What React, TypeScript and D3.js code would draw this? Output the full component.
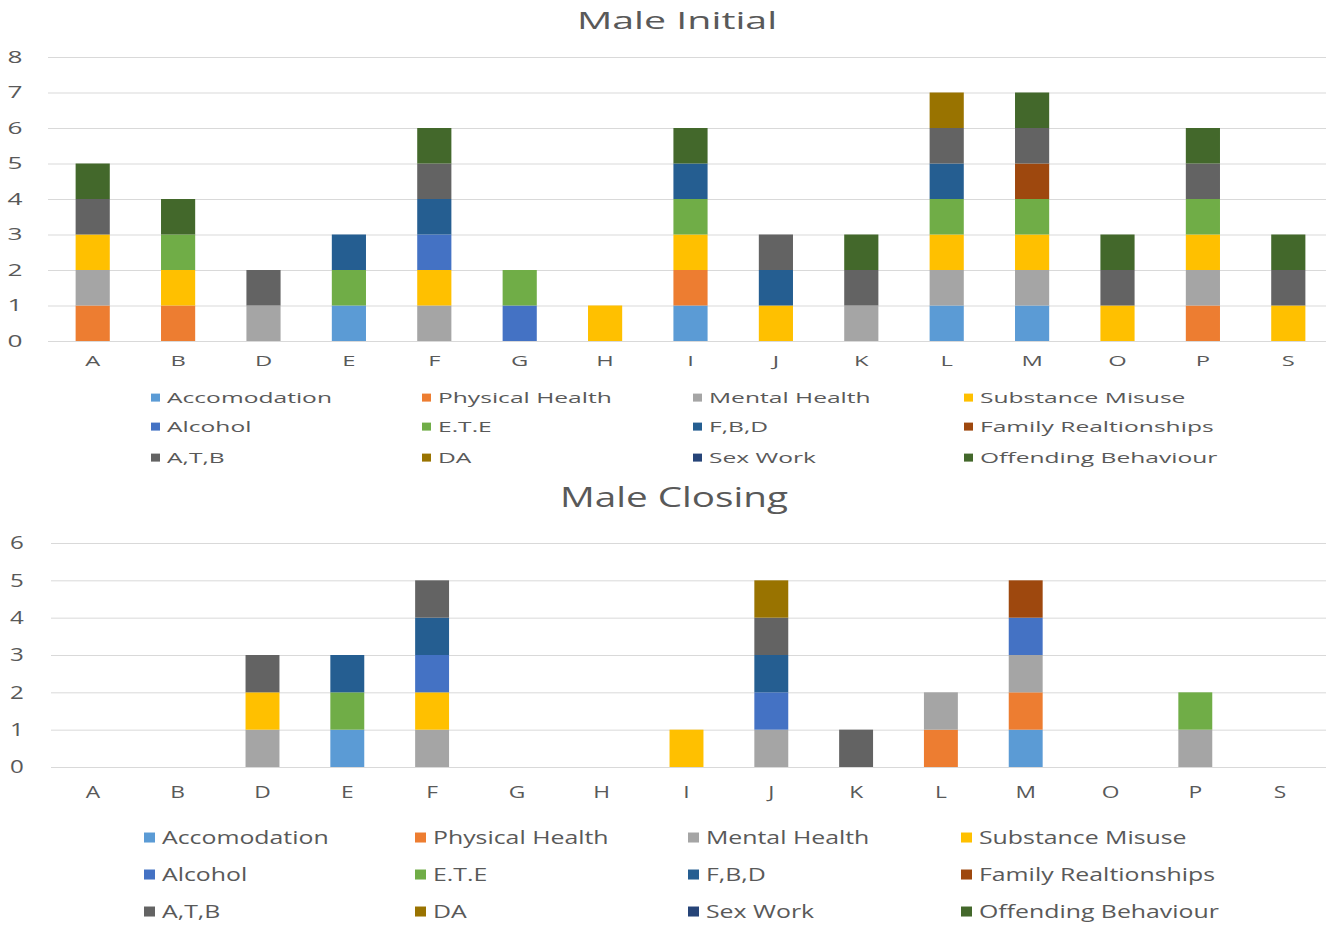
import { scaleBand, scaleLinear, stack } from 'd3'

const categories = ['A', 'B', 'D', 'E', 'F', 'G', 'H', 'I', 'J', 'K', 'L', 'M', 'O', 'P', 'S']

const seriesNames = [
    'Accomodation', 'Physical Health', 'Mental Health', 'Substance Misuse',
    'Alcohol', 'E.T.E', 'F,B,D', 'Family Realtionships',
    'A,T,B', 'DA', 'Sex Work', 'Offending Behaviour'
]

const seriesColors = [
    '#5B9BD5', '#ED7D31', '#A5A5A5', '#FFC000',
    '#4472C4', '#70AD47', '#255E91', '#9E480E',
    '#636363', '#997300', '#264478', '#43682B'
]

// one row per series (same order as seriesNames), one column per category
//                    A  B  D  E  F  G  H  I  J  K  L  M  O  P  S
const initialCounts = [
    [0, 0, 0, 1, 0, 0, 0, 1, 0, 0, 1, 1, 0, 0, 0],
    [1, 1, 0, 0, 0, 0, 0, 1, 0, 0, 0, 0, 0, 1, 0],
    [1, 0, 1, 0, 1, 0, 0, 0, 0, 1, 1, 1, 0, 1, 0],
    [1, 1, 0, 0, 1, 0, 1, 1, 1, 0, 1, 1, 1, 1, 1],
    [0, 0, 0, 0, 1, 1, 0, 0, 0, 0, 0, 0, 0, 0, 0],
    [0, 1, 0, 1, 0, 1, 0, 1, 0, 0, 1, 1, 0, 1, 0],
    [0, 0, 0, 1, 1, 0, 0, 1, 1, 0, 1, 0, 0, 0, 0],
    [0, 0, 0, 0, 0, 0, 0, 0, 0, 0, 0, 1, 0, 0, 0],
    [1, 0, 1, 0, 1, 0, 0, 0, 1, 1, 1, 1, 1, 1, 1],
    [0, 0, 0, 0, 0, 0, 0, 0, 0, 0, 1, 0, 0, 0, 0],
    [0, 0, 0, 0, 0, 0, 0, 0, 0, 0, 0, 0, 0, 0, 0],
    [1, 1, 0, 0, 1, 0, 0, 1, 0, 1, 0, 1, 1, 1, 1]
]

//                    A  B  D  E  F  G  H  I  J  K  L  M  O  P  S
const closingCounts = [
    [0, 0, 0, 1, 0, 0, 0, 0, 0, 0, 0, 1, 0, 0, 0],
    [0, 0, 0, 0, 0, 0, 0, 0, 0, 0, 1, 1, 0, 0, 0],
    [0, 0, 1, 0, 1, 0, 0, 0, 1, 0, 1, 1, 0, 1, 0],
    [0, 0, 1, 0, 1, 0, 0, 1, 0, 0, 0, 0, 0, 0, 0],
    [0, 0, 0, 0, 1, 0, 0, 0, 1, 0, 0, 1, 0, 0, 0],
    [0, 0, 0, 1, 0, 0, 0, 0, 0, 0, 0, 0, 0, 1, 0],
    [0, 0, 0, 1, 1, 0, 0, 0, 1, 0, 0, 0, 0, 0, 0],
    [0, 0, 0, 0, 0, 0, 0, 0, 0, 0, 0, 1, 0, 0, 0],
    [0, 0, 1, 0, 1, 0, 0, 0, 1, 1, 0, 0, 0, 0, 0],
    [0, 0, 0, 0, 0, 0, 0, 0, 1, 0, 0, 0, 0, 0, 0],
    [0, 0, 0, 0, 0, 0, 0, 0, 0, 0, 0, 0, 0, 0, 0],
    [0, 0, 0, 0, 0, 0, 0, 0, 0, 0, 0, 0, 0, 0, 0]
]

const initialTicks = [0, 1, 2, 3, 4, 5, 6, 7, 8]
const closingTicks = [0, 1, 2, 3, 4, 5, 6]

const FONT = '"Open Sans", sans-serif'
const TEXT = '#595959'

// text squeezed/stretched along x like the source picture
function SText({ x, y, k, size, anchor = 'start', children }: any) {
    return (
        <text
            transform={`translate(${x},${y}) scale(${k},1)`}
            textAnchor={anchor}
            fontSize={size}
            fontFamily={FONT}
            fill={TEXT}
        >
            {children}
        </text>
    )
}

function StackedChart({ title, counts, ticks, layout }: any) {
    const {
        k, titleX, titleY, titleSize, gridLeft, gridRight, bandLeft, bandRight, top, bottom,
        tickX, tickSize, xLabelY, xLabelSize,
        legendCols, legendRows, legendSize, markW, markH
    } = layout

    const rows = categories.map((c, i) => {
        const r: any = { cat: c }
        seriesNames.forEach((s, j) => { r[s] = counts[j][i] })
        return r
    })
    const series = stack().keys(seriesNames)(rows)

    const x = scaleBand().domain(categories).range([bandLeft, bandRight]).paddingInner(0.6).paddingOuter(0.3)
    const y = scaleLinear().domain([0, ticks[ticks.length - 1]]).range([bottom, top])

    return (
        <g>
            <SText x={titleX} y={titleY} k={k} size={titleSize} anchor="middle">{title}</SText>
            {ticks.map(t => (
                <g key={t}>
                    <line x1={gridLeft} x2={gridRight} y1={y(t) + 0.5} y2={y(t) + 0.5} stroke="#d9d9d9" strokeWidth={1} />
                    <SText x={tickX} y={y(t) + tickSize * 0.36} k={k} size={tickSize} anchor="middle">{t}</SText>
                </g>
            ))}
            {series.map((s, j) => (
                <g key={s.key} fill={seriesColors[j]}>
                    {s.map((d, i) => d[1] - d[0] > 0 ? (
                        <rect
                            key={i}
                            x={x(categories[i])}
                            width={x.bandwidth()}
                            y={y(d[1])}
                            height={y(d[0]) - y(d[1])}
                        />
                    ) : null)}
                </g>
            ))}
            {categories.map(c => (
                <SText key={c} x={x(c) + x.bandwidth() / 2} y={xLabelY} k={k} size={xLabelSize} anchor="middle">{c}</SText>
            ))}
            {seriesNames.map((s, j) => {
                const cx = legendCols[j % 4]
                const cy = legendRows[Math.floor(j / 4)]
                return (
                    <g key={s}>
                        <rect x={cx - markW - 7} y={cy - legendSize * 0.36 - markH / 2} width={markW} height={markH} fill={seriesColors[j]} />
                        <SText x={cx} y={cy} k={k} size={legendSize}>{s}</SText>
                    </g>
                )
            })}
        </g>
    )
}

const topLayout = {
    k: 1.64, titleX: 677, titleY: 29, titleSize: 24,
    gridLeft: 48, gridRight: 1326, bandLeft: 50, bandRight: 1331, top: 57, bottom: 341,
    tickX: 15, tickSize: 16, xLabelY: 366, xLabelSize: 14.5,
    legendCols: [167, 438, 709, 980], legendRows: [403, 432, 463], legendSize: 15,
    markW: 9, markH: 8
}

const bottomLayout = {
    k: 1.38, titleX: 674, titleY: 507, titleSize: 28,
    gridLeft: 51, gridRight: 1326, bandLeft: 50.5, bandRight: 1322.5, top: 543, bottom: 767,
    tickX: 17, tickSize: 17.5, xLabelY: 798, xLabelSize: 16.5,
    legendCols: [162, 433, 706, 979], legendRows: [844, 881, 918], legendSize: 18,
    markW: 11, markH: 10
}

export default function App() {
    return (
        <svg width={1328} height={927} style={{ position: 'absolute', left: 0, top: 0, background: '#fff' }}>
            <StackedChart title="Male Initial" counts={initialCounts} ticks={initialTicks} layout={topLayout} />
            <StackedChart title="Male Closing" counts={closingCounts} ticks={closingTicks} layout={bottomLayout} />
        </svg>
    )
}
